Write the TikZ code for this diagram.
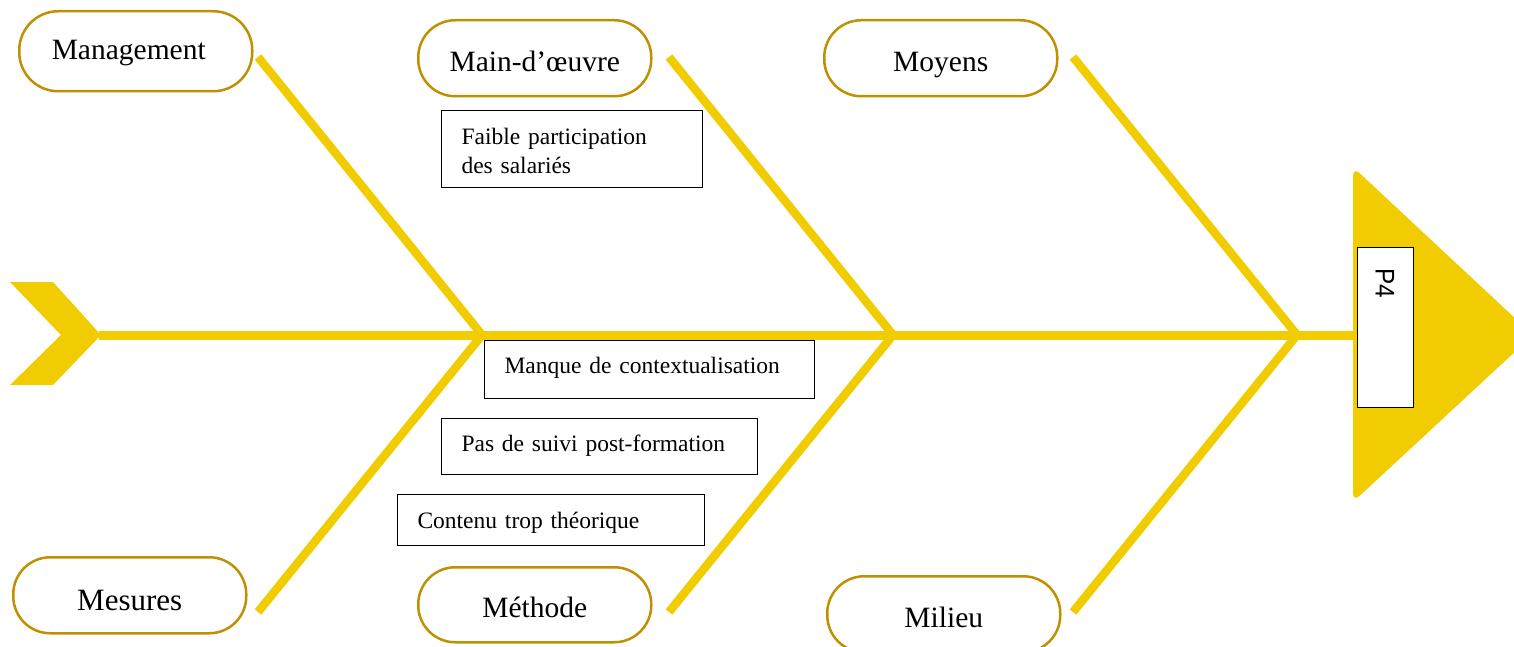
\documentclass[tikz,border=0pt]{standalone}
\usepackage{fontspec}
\setmainfont{Liberation Serif}
\newfontfamily\sansP{Liberation Sans}
\definecolor{fy}{RGB}{240,204,0}
\definecolor{gold}{RGB}{191,144,0}
\begin{document}
\begin{tikzpicture}[x=1pt,y=-1pt,
  bone/.style={draw=fy,line width=8.5pt,line cap=butt},
  stadium/.style={draw=gold,line width=2.5pt,fill=white,rounded corners=37pt,
    minimum width=233pt,inner ysep=0pt,anchor=north west,font=\fontsize{29.5}{34}\selectfont},
  causebox/.style={draw=black,line width=1pt,fill=white,inner xsep=20pt,inner ysep=0pt,
    align=left,anchor=north west,font=\fontsize{23.5}{29}\selectfont}]
\useasboundingbox (0,0) rectangle (1514,647);
\clip (0,0) rectangle (1514,647);
% tail
\fill[fy] (10,282) -- (53,282) -- (101,335) -- (53,385) -- (10,385) -- (61,335) -- cycle;
\coordinate (tail) at (99,335);
% head
\fill[fy,rounded corners=9pt] (1353,167) -- (1533,335) -- (1353,502) -- cycle;
\coordinate (head) at (1356,335);
% spine joints
\coordinate (j1) at (482,335);
\coordinate (j2) at (893,335);
\coordinate (j3) at (1297,335);
\draw[bone,line width=9pt] (tail) -- (head);
% bone ends
\coordinate (u1) at (258,57);
\coordinate (u2) at (669,57);
\coordinate (u3) at (1073,57);
\coordinate (l1) at (258,612);
\coordinate (l2) at (669,612);
\coordinate (l3) at (1073,612);
\draw[bone] (u1) -- (j1);
\draw[bone] (u2) -- (j2);
\draw[bone] (u3) -- (j3);
\draw[bone] (l1) -- (j1);
\draw[bone] (l2) -- (j2);
\draw[bone] (l3) -- (j3);
% category boxes
\node[stadium,rounded corners=39pt,text height=48pt,text depth=32pt] (man) at (18,10) {Management\kern14pt};
\node[stadium,text height=51pt,text depth=25pt] (mo) at (417,19) {Main-d’œuvre};
\node[stadium,text height=51pt,text depth=25pt] (moy) at (823,19) {Moyens};
\node[stadium,font=\fontsize{31}{34}\selectfont,text height=53pt,text depth=23pt] (mes) at (12,556) {Mesures};
\node[stadium,text height=50pt,text depth=25pt] (met) at (417,566) {Méthode};
\node[stadium,text height=51pt,text depth=25pt] (mil) at (826,575) {Milieu};
% cause boxes
\node[causebox,text width=221pt,text height=34pt,text depth=43pt] (c1) at (441,110) {Faible participation\\des salariés};
\node[causebox,text width=290pt,text height=33pt,text depth=25pt] (c2) at (484,340) {Manque de contextualisation};
\node[causebox,text width=276pt,text height=33pt,text depth=23pt] (c3) at (441,418) {Pas de suivi post-formation};
\node[causebox,text width=267pt,text height=34pt,text depth=17pt] (c4) at (397,494) {Contenu trop théorique};
% effect box
\node[draw=black,line width=1pt,fill=white,rotate=-90,anchor=north west,
  inner xsep=21pt,inner ysep=0pt,text width=118pt,text height=38pt,text depth=18pt,align=left,
  font=\sansP\fontsize{27}{27}\selectfont] (p4) at (1414,247)
  {\scalebox{0.9}[1]{P4}};
\end{tikzpicture}
\end{document}
